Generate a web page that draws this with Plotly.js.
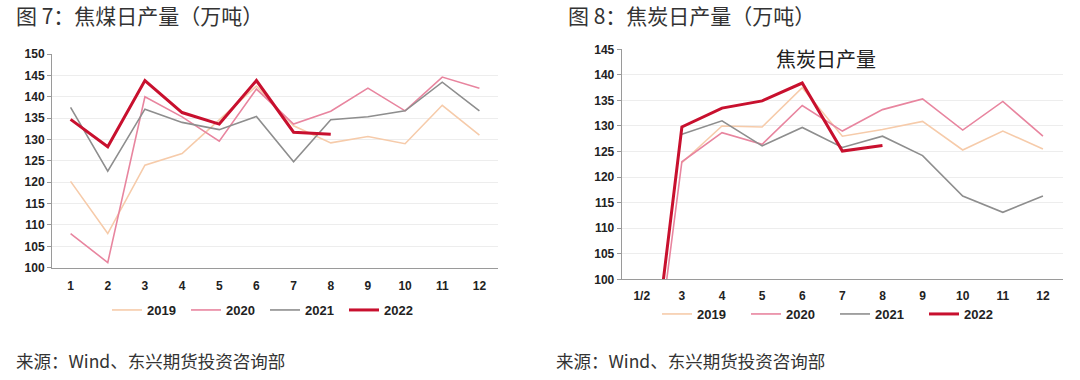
<!DOCTYPE html>
<html>
<head>
<meta charset="utf-8">
<script src="https://cdn.plot.ly/plotly-3.0.1.min.js"></script>
<style>html,body{margin:0;padding:0;background:#fff;}#chart{width:1080px;height:380px;}</style>
</head>
<body>
<div id="chart"></div>
<script>
// Left chart: 焦煤日产量
const monthsL = ['1','2','3','4','5','6','7','8','9','10','11','12'];
const coal2019 = [120.2,108.0,124.0,126.7,134.6,142.5,133.2,129.2,130.7,129.0,138.0,131.0];
const coal2020 = [108.0,101.2,140.0,135.3,129.6,141.8,133.6,136.6,142.0,136.7,144.6,142.0];
const coal2021 = [137.5,122.6,137.1,134.0,132.3,135.4,124.8,134.6,135.3,136.7,143.4,136.7];
const coal2022 = [134.7,128.3,143.8,136.3,133.6,143.8,131.7,131.2,null,null,null,null];

// Right chart: 焦炭日产量
const monthsR = ['1/2','3','4','5','6','7','8','9','10','11','12'];
const coke2019 = [null,122.8,130.0,129.8,137.5,128.0,129.3,130.9,125.3,129.0,125.5];
const coke2020 = [62,123.0,128.7,126.4,134.0,129.0,133.2,135.3,129.2,134.8,128.0];
const coke2021 = [null,128.4,131.0,126.1,129.7,125.8,128.0,124.2,116.3,113.1,116.3];
const coke2022 = [65,129.8,133.5,134.9,138.4,125.1,126.2,null,null,null,null];

const seriesNames = ['2019','2020','2021','2022'];
const colors = ['#F6CBAA','#E8859F','#8E8E8E','#C8102E'];
const widths = [1.6,1.6,1.6,3];

const traces = [];
const leftData = [coal2019,coal2020,coal2021,coal2022];
const rightData = [coke2019,coke2020,coke2021,coke2022];
for (let i=0;i<4;i++){
  traces.push({x:monthsL,y:leftData[i],type:'scatter',mode:'lines',name:seriesNames[i],
    line:{color:colors[i],width:widths[i]},xaxis:'x',yaxis:'y',legend:'legend',connectgaps:false});
}
for (let i=0;i<4;i++){
  traces.push({x:monthsR,y:rightData[i],type:'scatter',mode:'lines',name:seriesNames[i],
    line:{color:colors[i],width:widths[i]},xaxis:'x2',yaxis:'y2',legend:'legend2',connectgaps:false});
}

const tickFont = {family:'Liberation Sans, Arial, sans-serif',size:12,color:'#222',weight:'bold'};
const cjk = 'Noto Sans CJK SC, sans-serif';
const legFont = {family:'Liberation Sans, Arial, sans-serif',size:13,color:'#222',weight:'bold'};

const layout = {
  width:1080,height:380,margin:{l:0,r:0,t:0,b:0},
  paper_bgcolor:'#fff',plot_bgcolor:'#fff',
  showlegend:true,
  xaxis:{domain:[52/1080,498/1080],type:'category',range:[-0.5,monthsL.length-0.5],anchor:'y',showline:true,linecolor:'#9a9a9a',linewidth:1,
    showgrid:false,ticks:'',ticklabelstandoff:7,tickfont:tickFont,zeroline:false},
  yaxis:{domain:[(380-267.7)/380,(380-54)/380],range:[100,150],dtick:5,anchor:'x',showline:true,linecolor:'#9a9a9a',
    linewidth:1,ticks:'outside',ticklen:4,tickcolor:'#9a9a9a',showgrid:true,gridcolor:'#EDEDED',tickfont:tickFont,zeroline:false},
  xaxis2:{domain:[621.7/1080,1063/1080],type:'category',range:[-0.5,monthsR.length-0.5],anchor:'y2',showline:true,linecolor:'#9a9a9a',linewidth:1,
    showgrid:false,ticks:'',ticklabelstandoff:5,tickfont:tickFont,zeroline:false},
  yaxis2:{domain:[(380-279.3)/380,(380-49.3)/380],range:[100,145],dtick:5,anchor:'x2',showline:true,linecolor:'#9a9a9a',
    linewidth:1,ticks:'outside',ticklen:4,tickcolor:'#9a9a9a',showgrid:true,gridcolor:'#EDEDED',tickfont:tickFont,zeroline:false},
  legend:{orientation:'h',x:107/1080,y:(380-310)/380,xanchor:'left',yanchor:'middle',
    font:legFont,bgcolor:'rgba(0,0,0,0)',itemwidth:30,entrywidth:34},
  legend2:{orientation:'h',x:657/1080,y:(380-314)/380,xanchor:'left',yanchor:'middle',
    font:legFont,bgcolor:'rgba(0,0,0,0)',itemwidth:30,entrywidth:44},
  annotations:[
    {text:'图 7：焦煤日产量（万吨）',xref:'paper',yref:'paper',x:14/1080,y:(380-15)/380,xanchor:'left',yanchor:'middle',
      showarrow:false,font:{family:cjk,size:21,color:'#333'}},
    {text:'图 8：焦炭日产量（万吨）',xref:'paper',yref:'paper',x:566/1080,y:(380-15)/380,xanchor:'left',yanchor:'middle',
      showarrow:false,font:{family:cjk,size:21,color:'#333'}},
    {text:'焦炭日产量',xref:'paper',yref:'paper',x:826/1080,y:(380-58)/380,xanchor:'center',yanchor:'middle',
      showarrow:false,font:{family:cjk,size:20,color:'#222'}},
    {text:'来源：Wind、东兴期货投资咨询部',xref:'paper',yref:'paper',x:14/1080,y:(380-360)/380,xanchor:'left',yanchor:'middle',
      showarrow:false,font:{family:cjk,size:17.5,color:'#333'}},
    {text:'来源：Wind、东兴期货投资咨询部',xref:'paper',yref:'paper',x:554/1080,y:(380-360)/380,xanchor:'left',yanchor:'middle',
      showarrow:false,font:{family:cjk,size:17.5,color:'#333'}}
  ]
};

Plotly.newPlot('chart',traces,layout,{staticPlot:true,displayModeBar:false});
</script>
</body>
</html>
